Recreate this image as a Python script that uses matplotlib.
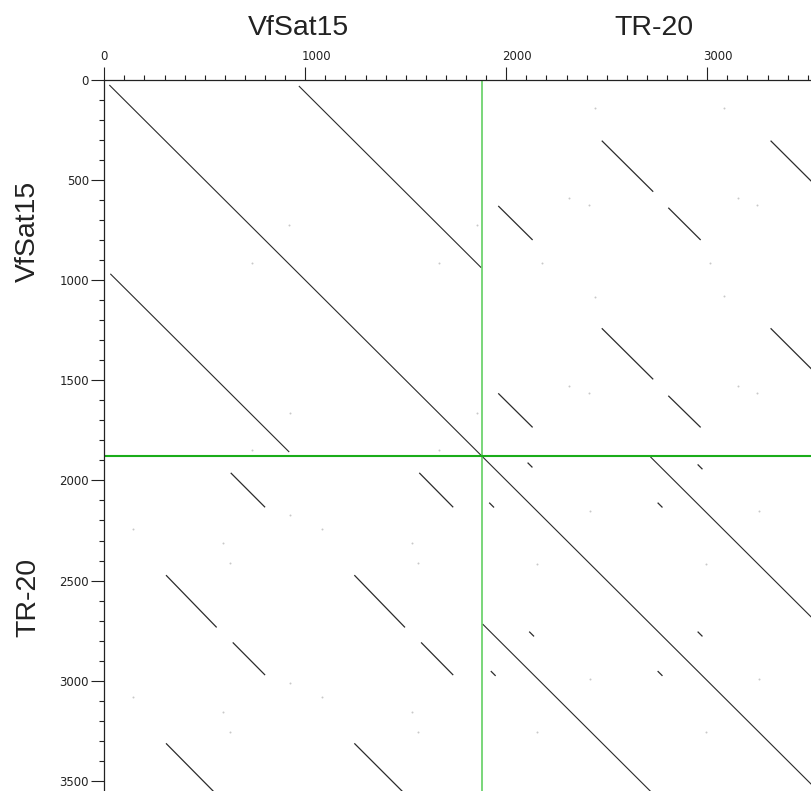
#Dot plot of VfSat15 and TR-20 concatenated against itself.

import matplotlib
matplotlib.use('Agg')
import matplotlib.pyplot as plt
from matplotlib.ticker import MultipleLocator
from matplotlib.transforms import ScaledTranslation, blended_transform_factory

# sequence names and lengths (positions in bp)
seq_names = ['VfSat15', 'TR-20']
seq_len_vfsat15 = 1878
x_max = 3516
y_max = 3551

# long diagonals (x0, y0, x1, y1)
main_diag = [(25, 25, 3560, 3560)]
vfsat_repeats = [(968, 30, 1875, 937),
                 (30, 968, 920, 1858)]
tr20_repeats = [(2717, 1882, 3530, 2695),
                (1882, 2717, 2730, 3565)]

# VfSat15 x TR-20 matches (upper right block)
cross_upper = [(2475, 303, 2731, 558), (3315, 303, 3530, 518),
               (1960, 629, 2131, 799), (2806, 638, 2967, 799),
               (2475, 1240, 2731, 1495), (3315, 1240, 3530, 1455),
               (1960, 1565, 2131, 1735), (2806, 1577, 2967, 1735)]
# TR-20 x VfSat15 matches (lower left block)
cross_lower = [(629, 1962, 800, 2134), (1567, 1962, 1736, 2134),
               (307, 2473, 559, 2734), (1244, 2473, 1496, 2734),
               (639, 2809, 800, 2972), (1576, 2809, 1736, 2972),
               (307, 3313, 560, 3570), (1244, 3313, 1500, 3570)]
# short hits inside TR-20
tr20_short = [(2106, 1911, 2130, 1935), (1915, 2111, 1939, 2135),
              (2952, 1920, 2976, 1944), (2753, 2111, 2777, 2135),
              (2114, 2755, 2138, 2779), (1923, 2952, 1947, 2976),
              (2952, 2755, 2976, 2779), (2753, 2952, 2777, 2976)]

# faint single dots
speck_x = [917, 924, 1853, 1853, 733, 1667, 733, 1667,
           2442, 3081, 2314, 3154, 2413, 3249, 2442, 3081, 2314, 3154, 2413, 3249, 2176, 3013,
           924, 144, 1082, 592, 1533, 924, 144, 1082, 592, 1533, 626, 1563, 626, 1563,
           2416, 2151, 2994, 3255, 2416, 3255, 2994, 2151]
speck_y = [724, 1665, 724, 1663, 913, 913, 1848, 1848,
           141, 141, 591, 591, 624, 624, 1082, 1079, 1528, 1528, 1562, 1562, 916, 916,
           2173, 2243, 2243, 2314, 2314, 3014, 3083, 3083, 3155, 3155, 2414, 2414, 3255, 3255,
           2151, 2418, 2418, 2151, 2993, 2993, 3255, 3255]

x_major = [0, 1000, 2000, 3000]
y_major = [0, 500, 1000, 1500, 2000, 2500, 3000, 3500]

W, H = 811, 791
fig = plt.figure(figsize=(W / 100, H / 100), dpi=100)
left_px, top_px = 104.3, 80
ax = fig.add_axes([left_px / W, 0, 1 - left_px / W, 1 - top_px / H])
ax.set_xlim(0, x_max)
ax.set_ylim(y_max, 0)

line_col = '#2b2b2b'
for segs, lw in [(main_diag, 0.8), (vfsat_repeats, 0.8), (tr20_repeats, 0.8),
                 (cross_upper, 0.9), (cross_lower, 0.9), (tr20_short, 0.9)]:
    for x0, y0, x1, y1 in segs:
        ax.plot([x0, x1], [y0, y1], color=line_col, lw=lw, solid_capstyle='butt')

ax.scatter(speck_x, speck_y, s=2, color='#c8c8c8', linewidths=0)

# sequence boundaries
ax.axvline(seq_len_vfsat15, color='#55cc55', lw=1.1)
ax.axhline(seq_len_vfsat15, color='#1aad1a', lw=1.5)

for side in ['bottom', 'right']:
    ax.spines[side].set_visible(False)
for side in ['top', 'left']:
    ax.spines[side].set_linewidth(0.9)
    ax.spines[side].set_color('#222222')

ax.xaxis.tick_top()
ax.xaxis.set_major_locator(MultipleLocator(1000))
ax.xaxis.set_minor_locator(MultipleLocator(100))
ax.yaxis.set_major_locator(MultipleLocator(500))
ax.yaxis.set_minor_locator(MultipleLocator(100))
ax.tick_params(which='major', length=9.5, width=0.8, color='#222222')
ax.tick_params(which='minor', length=3.8, width=0.8, color='#222222')
ax.tick_params(axis='x', labeltop=False, labelbottom=False)
ax.tick_params(axis='y', pad=1.5, labelsize=8.5, labelcolor='#222222')
ax.set_yticks(y_major)
ax.set_yticklabels([str(v) for v in y_major])

# top labels sit just left of their tick, above the axis
trans = blended_transform_factory(ax.transData, ax.transAxes) + \
    ScaledTranslation(-0.04, 0.195, fig.dpi_scale_trans)
for v in x_major:
    ax.text(v, 1, str(v), transform=trans, ha='left', va='baseline',
            fontsize=8.5, color='#222222', clip_on=False)

title_font = dict(family='Liberation Sans', fontsize=20.5, color='#222222')
fig.text(299 / W, 1 - 35 / H, seq_names[0], ha='center', va='baseline', **title_font)
fig.text(654 / W, 1 - 35 / H, seq_names[1], ha='center', va='baseline', **title_font)
fig.text(35 / W, 1 - 231 / H, seq_names[0], ha='center', va='baseline',
         rotation=90, rotation_mode='anchor', **title_font)
fig.text(35 / W, 1 - 597 / H, seq_names[1], ha='center', va='baseline',
         rotation=90, rotation_mode='anchor', **title_font)

fig.savefig('out.png', dpi=100, facecolor='white')
